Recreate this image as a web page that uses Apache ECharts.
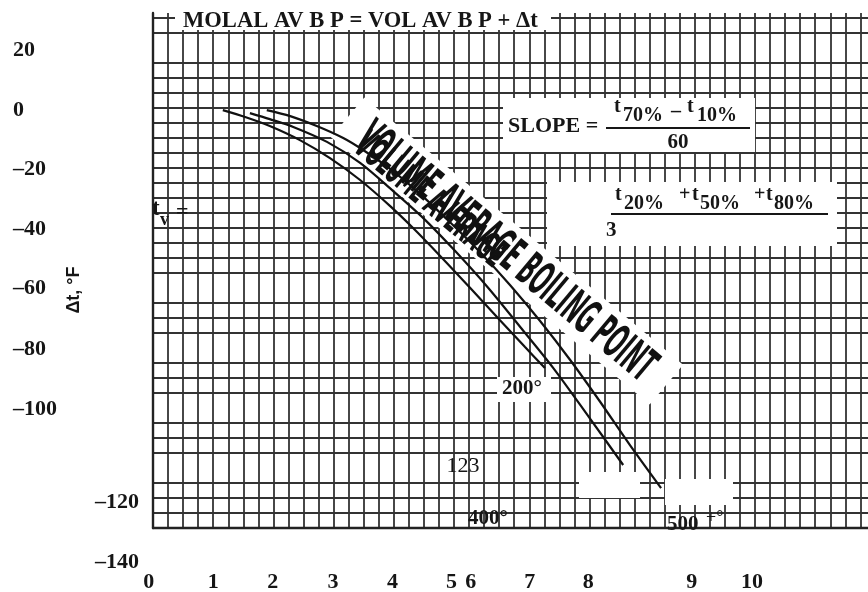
<!DOCTYPE html>
<html>
<head>
<meta charset="utf-8">
<script src="https://cdn.jsdelivr.net/npm/echarts@6/dist/echarts.min.js"></script>
<style>
  html, body { margin: 0; padding: 0; background: #ffffff; }
  #chart { width: 868px; height: 592px; }
</style>
</head>
<body>
<div id="chart"></div>
<script>
// ---- Data: Δt correction curves (x in chart units, Δt in °F) ----
const curve200X = [1.16, 1.53, 1.94, 2.44, 2.94, 3.44, 3.94, 4.32, 4.77, 5.27, 5.76, 6.18, 6.51];
const curve200Y = [-0.7, -3.0, -6.0, -10.7, -16.7, -24.0, -32.7, -40.0, -49.3, -60.0, -70.7, -79.7, -86.7];

const curve400X = [1.61, 1.94, 2.33, 2.89, 3.44, 3.99, 4.49, 5.02, 5.57, 6.10, 6.65, 7.23, 7.81];
const curve400Y = [-1.7, -3.7, -6.3, -11.3, -18.3, -27.7, -36.7, -47.7, -60.0, -73.0, -86.7, -102.7, -119.0];

const curve500X = [1.89, 2.28, 2.72, 3.16, 3.49, 3.94, 4.44, 4.93, 5.43, 5.93, 6.43, 6.93, 7.43, 7.92, 8.44];
const curve500Y = [-0.7, -2.7, -6.0, -10.0, -14.0, -20.3, -28.7, -38.0, -48.0, -59.0, -71.0, -84.0, -98.0, -112.3, -126.7];

// Tick labels and where they sit on the chart's scales
const xTickLabels = ['0', '1', '2', '3', '4', '5', '6', '7', '8', '9', '10'];
const xTickPos    = [-0.07, 1.0, 1.99, 2.99, 3.98, 4.96, 5.28, 6.26, 7.23, 8.95, 9.95];

const yTickLabels = ['20', '0', '–20', '–40', '–60', '–80', '–100', '–120', '–140'];
const yTickPos    = [19.2, -0.7, -20.3, -40.3, -60.0, -80.3, -100.3, -131.3, -151.3];

// Horizontal rules that are left out of the ruled paper
const gapLevels = [20, -60, -80, -100, -120];

// ---- Layout ----
const W = 868, H = 592;
const PLOT_LEFT = 153, PLOT_TOP = 13, PLOT_BOTTOM = 528;
const PX_PER_X = 60.2;          // pixels per x unit
const PX_PER_Y = 3;             // pixels per °F
const Y_MIN = -140;
const Y_MAX = Y_MIN + (PLOT_BOTTOM - PLOT_TOP) / PX_PER_Y;
const X_MAX = (W - PLOT_LEFT) / PX_PER_X;
const Y_ZERO_PX = PLOT_TOP + Y_MAX * PX_PER_Y;   // pixel row of Δt = 0

const INK = '#161616';
const GRID_INK = '#333333';
const SERIF = '"Liberation Serif", "DejaVu Serif", serif';
const NARROW = '"Liberation Sans Narrow", "DejaVu Sans Condensed", "Liberation Sans", sans-serif';

const zip = (xs, ys) => xs.map((x, i) => [x, ys[i]]);
const labelFor = (v, pos, labels) => {
  const i = pos.findIndex(p => Math.abs(p - v) < 1e-6);
  return i >= 0 ? labels[i] : '';
};

// split-line colours, one per 5 °F rule from the bottom up
const yRuleColors = [];
for (let v = Y_MIN; v <= Y_MAX + 1e-9; v += 5) {
  yRuleColors.push(gapLevels.includes(v) ? 'rgba(0,0,0,0)' : GRID_INK);
}

const measureCtx = document.createElement('canvas').getContext('2d');
function textWidth(str, font) {
  measureCtx.font = font;
  return measureCtx.measureText(str).width;
}

// ---- Annotations ----
const bandText = 'VOLUME AVERAGE BOILING POINT';
const bandFont = 'bold 47px ' + NARROW;
const bandScale = 374 / textWidth(bandText, bandFont);
const bandRot = -40 * Math.PI / 180;

const titleText = 'MOLAL AV B P = VOL AV B P + Δt';
const titleSize = Math.min(24, 22 * 355 / textWidth(titleText, 'bold 22px ' + SERIF));

function txt(text, x, y, opt) {
  opt = opt || {};
  return {
    type: 'text', x: x, y: y, z: 10, rotation: opt.rotation || 0,
    style: {
      text: text,
      fontFamily: opt.family || SERIF,
      fontSize: opt.size || 21,
      fontWeight: opt.weight || 'bold',
      fill: INK,
      align: opt.align || 'left',
      verticalAlign: 'middle'
    }
  };
}
function whiteBox(x1, y1, x2, y2) {
  return { type: 'rect', z: 1, shape: { x: x1, y: y1, width: x2 - x1, height: y2 - y1 }, style: { fill: '#ffffff' } };
}
function bar(x1, x2, y) {
  return { type: 'line', z: 10, shape: { x1: x1, y1: y, x2: x2, y2: y }, style: { stroke: INK, lineWidth: 2 } };
}

const graphics = [
  // blanked areas of the ruled paper
  whiteBox(175, 6, 551, 30),
  whiteBox(503, 98, 755, 152),
  whiteBox(547, 182, 837, 246),
  whiteBox(497, 377, 551, 402),
  whiteBox(579, 472, 640, 498),
  whiteBox(665, 479, 733, 505),
  {
    type: 'group', x: 507, y: 251, rotation: bandRot, z: 1,
    children: [
      { type: 'rect', z: 1, shape: { x: -208, y: -26, width: 416, height: 52 }, style: { fill: '#ffffff' } }
    ]
  },
  {
    type: 'group', x: 507, y: 251, rotation: bandRot, z: 10,
    children: [
      {
        type: 'text', x: 0, y: 3, scaleX: bandScale, z: 10,
        style: { text: bandText, font: bandFont, fill: '#111111', align: 'center', verticalAlign: 'middle' }
      },
      {
        type: 'text', x: -184, y: 12, scaleX: bandScale * 0.92, scaleY: 0.85, z: 10,
        style: { text: 'VOLUME AVERAGE', font: bandFont, fill: '#111111', align: 'left', verticalAlign: 'middle' }
      }
    ]
  },

  // title
  txt(titleText, 183, 21, { size: titleSize }),

  // slope definition
  txt('SLOPE =', 508, 126, { size: 22 }),
  txt('t', 614, 107, { size: 20 }),
  txt('70%', 623, 116, { size: 20 }),
  txt('–', 671, 112, { size: 20 }),
  txt('t', 687, 107, { size: 20 }),
  txt('10%', 697, 116, { size: 20 }),
  bar(606, 750, 128),
  txt('60', 678, 143, { size: 21, align: 'center' }),

  // volume average boiling point definition
  txt('t', 152, 209, { size: 23 }),
  txt('v', 160, 220, { size: 18 }),
  txt('=', 176, 212, { size: 22 }),
  txt('t', 615, 195, { size: 20 }),
  txt('20%', 624, 204, { size: 20 }),
  txt('+', 679, 195, { size: 20 }),
  txt('t', 692, 195, { size: 20 }),
  txt('50%', 700, 204, { size: 20 }),
  txt('+', 754, 195, { size: 20 }),
  txt('t', 766, 195, { size: 20 }),
  txt('80%', 774, 204, { size: 20 }),
  bar(611, 828, 214),
  txt('3', 606, 231, { size: 21 }),

  // curve labels
  txt('200°', 522, 389, { size: 21, align: 'center' }),
  txt('123', 463, 466, { size: 22, weight: 'normal', align: 'center' }),
  txt('400°', 488, 519, { size: 21, align: 'center' }),
  txt('500', 667, 525, { size: 21 }),
  txt('+°', 706, 518, { size: 18, weight: 'normal' }),

  // axis title
  txt('Δt, °F', 74, 290, { size: 18, family: '"Liberation Sans", Arial, sans-serif', align: 'center', rotation: Math.PI / 2 })
];

// ---- Chart ----
const chart = echarts.init(document.getElementById('chart'), null, { renderer: 'canvas', width: W, height: H });

const labelStyle = { color: INK, fontFamily: SERIF, fontWeight: 'bold', fontSize: 22 };
const curveStyle = { color: '#111111', width: 2.2 };

chart.setOption({
  animation: false,
  backgroundColor: '#ffffff',
  grid: [
    { left: PLOT_LEFT, top: PLOT_TOP, right: 0, bottom: H - PLOT_BOTTOM, containLabel: false, outerBoundsMode: 'none' },
    { left: 0, top: 0, right: 0, bottom: 0, containLabel: false, outerBoundsMode: 'none' }
  ],
  xAxis: [
    {
      gridIndex: 0, type: 'value', min: 0, max: X_MAX, interval: 0.25,
      axisLine: { show: true, onZero: false, lineStyle: { color: '#222222', width: 2.4 } },
      axisTick: { show: false }, axisLabel: { show: false },
      splitLine: { show: true, showMinLine: true, showMaxLine: false, lineStyle: { color: GRID_INK, width: 1.8 } }
    },
    {
      gridIndex: 1, type: 'value', min: -PLOT_LEFT / PX_PER_X, max: X_MAX, position: 'bottom',
      axisLine: { show: false }, axisTick: { show: false }, splitLine: { show: false },
      axisLabel: Object.assign({
        customValues: xTickPos, inside: true, margin: 10, align: 'center', verticalAlign: 'middle',
        formatter: v => labelFor(v, xTickPos, xTickLabels)
      }, labelStyle)
    }
  ],
  yAxis: [
    {
      gridIndex: 0, type: 'value', min: Y_MIN, max: Y_MAX, interval: 5,
      axisLine: { show: true, onZero: false, lineStyle: { color: '#222222', width: 2.4 } },
      axisTick: { show: false }, axisLabel: { show: false },
      splitLine: { show: true, showMinLine: true, showMaxLine: false, lineStyle: { color: yRuleColors, width: 1.8 } }
    },
    {
      gridIndex: 1, type: 'value', min: (Y_ZERO_PX - H) / PX_PER_Y, max: Y_ZERO_PX / PX_PER_Y, position: 'left',
      axisLine: { show: false }, axisTick: { show: false }, splitLine: { show: false },
      axisLabel: Object.assign({
        customValues: yTickPos.slice(0, 7), inside: true, margin: 13, align: 'left', verticalAlign: 'middle',
        formatter: v => labelFor(v, yTickPos, yTickLabels)
      }, labelStyle)
    },
    {
      gridIndex: 1, type: 'value', min: (Y_ZERO_PX - H) / PX_PER_Y, max: Y_ZERO_PX / PX_PER_Y, position: 'left',
      axisLine: { show: false }, axisTick: { show: false }, splitLine: { show: false },
      axisLabel: Object.assign({
        customValues: yTickPos.slice(7), inside: true, margin: 95, align: 'left', verticalAlign: 'middle',
        formatter: v => labelFor(v, yTickPos, yTickLabels)
      }, labelStyle)
    }
  ],
  series: [
    { name: '200°', type: 'line', xAxisIndex: 0, yAxisIndex: 0, data: zip(curve200X, curve200Y), smooth: 0.3, showSymbol: false, lineStyle: curveStyle, z: 5 },
    { name: '400°', type: 'line', xAxisIndex: 0, yAxisIndex: 0, data: zip(curve400X, curve400Y), smooth: 0.3, showSymbol: false, lineStyle: curveStyle, z: 5 },
    { name: '500+°', type: 'line', xAxisIndex: 0, yAxisIndex: 0, data: zip(curve500X, curve500Y), smooth: 0.3, showSymbol: false, lineStyle: curveStyle, z: 5 }
  ],
  graphic: { elements: graphics }
});
</script>
</body>
</html>
